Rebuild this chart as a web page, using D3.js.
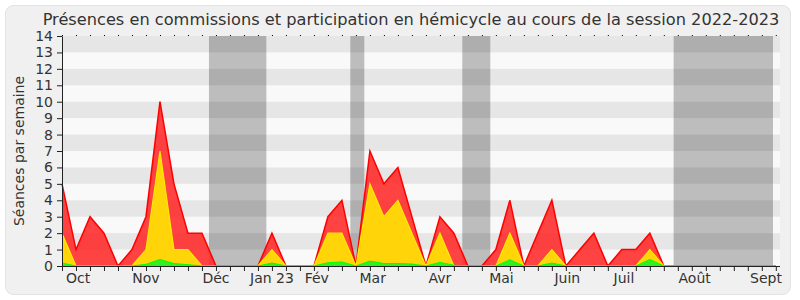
<!DOCTYPE html>
<html lang="fr">
<head>
<meta charset="UTF-8">
<title>Présences 2022-2023</title>
<script src="https://cdn.jsdelivr.net/npm/d3@7"></script>
<style>
  body { margin: 0; padding: 0; background: #fff; overflow: hidden; }
  svg { display: block; font-family: "DejaVu Sans", Verdana, sans-serif; }
</style>
</head>
<body>
<svg id="chart" width="800" height="300"></svg>
<script>
// one value per week, first week of October 2022 to end of September 2023
const presences = [5, 1, 3, 2, 0, 1, 3, 10, 5, 2, 2, 0, 0, 0, 0, 2, 0, 0, 0, 3, 4, 0, 7, 5, 6, 3,
                   0, 3, 2, 0, 0, 1, 4, 0, 2, 4, 0, 1, 2, 0, 1, 1, 2, 0, 0, 0, 0, 0, 0, 0, 0, 0];
const commissions = [2, 0, 0, 0, 0, 0, 1, 7, 1, 1, 0, 0, 0, 0, 0, 1, 0, 0, 0, 2, 2, 0, 5, 3, 4, 2,
                     0, 2, 0, 0, 0, 0, 2, 0, 0, 1, 0, 0, 0, 0, 0, 0, 1, 0, 0, 0, 0, 0, 0, 0, 0, 0];
const hemicycle = [0.18, 0, 0, 0, 0, 0, 0.1, 0.4, 0.15, 0.08, 0, 0, 0, 0, 0, 0.18, 0, 0, 0, 0.2, 0.25, 0, 0.3, 0.15, 0.15, 0.12,
                   0, 0.22, 0.05, 0, 0, 0, 0.38, 0, 0, 0.18, 0, 0, 0, 0, 0, 0, 0.4, 0, 0, 0, 0, 0, 0, 0, 0, 0];

// parliamentary holidays, in weeks
const vacances = [[10.5, 14.6], [20.6, 21.6], [28.6, 30.6], [43.7, 50.8]];

const monthLabels = ["Oct", "Nov", "Déc", "Jan 23", "Fév", "Mar", "Avr", "Mai", "Juin", "Juil", "Août", "Sept"];
const monthWeeks = [1.15, 6, 11, 15, 18.2, 22.2, 27, 31.4, 36.1, 40.15, 45.2, 50.3];

const yTicks = d3.range(0, 15);

const svg = d3.select("#chart");
const mLeft = 62, mRight = 780, mTop = 36, mBottom = 266;

const x = d3.scaleLinear().domain([0, 51.3]).range([mLeft, mRight]);
const y = d3.scaleLinear().domain([0, 14]).range([mBottom, mTop]);

// frame
svg.append("rect")
  .attr("x", 5.5).attr("y", 5.5).attr("width", 785).attr("height", 289)
  .attr("rx", 8)
  .attr("fill", "#f0f0f0").attr("stroke", "#e2e2e2");

// title
svg.append("text")
  .attr("x", 411).attr("y", 25)
  .attr("text-anchor", "middle")
  .attr("font-size", 16.2).attr("fill", "#333")
  .text("Présences en commissions et participation en hémicycle au cours de la session 2022-2023");

// plot background + holidays + stripes
svg.append("rect")
  .attr("x", mLeft).attr("y", mTop).attr("width", mRight - mLeft).attr("height", mBottom - mTop)
  .attr("fill", "#f9f9f9");

svg.selectAll("rect.vac").data(vacances).join("rect")
  .attr("class", "vac")
  .attr("x", d => x(d[0])).attr("y", mTop)
  .attr("width", d => x(d[1]) - x(d[0])).attr("height", mBottom - mTop)
  .attr("fill", "#bdbdbd");

svg.selectAll("rect.stripe").data(yTicks.filter(d => d % 2 == 1)).join("rect")
  .attr("class", "stripe")
  .attr("x", mLeft).attr("y", d => y(d + 1))
  .attr("width", mRight - mLeft).attr("height", d => y(d) - y(d + 1))
  .attr("fill", "#000").attr("opacity", 0.075);

// areas
const weeks = d3.range(presences.length);
function area(values) {
  return d3.area()
    .x(i => x(i))
    .y0(y(0))
    .y1(i => y(values[i]))(weeks);
}
function line(values) {
  return d3.line()
    .x(i => x(i))
    .y(i => y(values[i]))(weeks);
}

svg.append("path").attr("d", area(presences)).attr("fill", "#ff2828").attr("opacity", 0.88);
svg.append("path").attr("d", line(presences)).attr("fill", "none").attr("stroke", "#ff0000").attr("stroke-width", 1.5);
svg.append("path").attr("d", area(commissions)).attr("fill", "#ffd50a");
svg.append("path").attr("d", line(commissions)).attr("fill", "none").attr("stroke", "#ffea00").attr("stroke-width", 1.2);
svg.append("path").attr("d", area(hemicycle)).attr("fill", "#33ee22");
svg.append("path").attr("d", line(hemicycle)).attr("fill", "none").attr("stroke", "#00ff00").attr("stroke-width", 1);

// top dotted marks
svg.append("g")
  .attr("transform", `translate(0,${mTop})`)
  .call(d3.axisTop(x).tickValues(weeks).tickSize(1).tickFormat(""))
  .call(g => g.select(".domain").remove())
  .call(g => g.selectAll("line").attr("stroke", "#000"));

// x axis
const xAxis = svg.append("g")
  .attr("transform", `translate(0,${mBottom})`)
  .call(d3.axisBottom(x).tickValues(weeks).tickSize(5).tickSizeOuter(0).tickFormat(""));
xAxis.select(".domain").attr("stroke", "#222").attr("d", `M${mLeft},0.5H${mRight}`);
xAxis.selectAll("line").attr("stroke", "#222");

svg.selectAll("text.month").data(monthLabels).join("text")
  .attr("class", "month")
  .attr("x", (d, i) => x(monthWeeks[i])).attr("y", 283)
  .attr("text-anchor", "middle")
  .attr("font-size", 14).attr("fill", "#333")
  .text(d => d);

// y axis
const yAxis = svg.append("g")
  .attr("transform", `translate(${mLeft},0)`)
  .call(d3.axisLeft(y).tickValues(yTicks).tickSize(5).tickSizeOuter(0).tickPadding(4));
yAxis.select(".domain").attr("stroke", "#222");
yAxis.selectAll("line").attr("stroke", "#222");
yAxis.selectAll("text")
  .attr("font-family", "DejaVu Sans, Verdana, sans-serif")
  .attr("font-size", 14).attr("fill", "#333");

svg.append("text")
  .attr("transform", "translate(24,151) rotate(-90)")
  .attr("text-anchor", "middle")
  .attr("font-size", 14).attr("fill", "#333")
  .text("Séances par semaine");
</script>
</body>
</html>
